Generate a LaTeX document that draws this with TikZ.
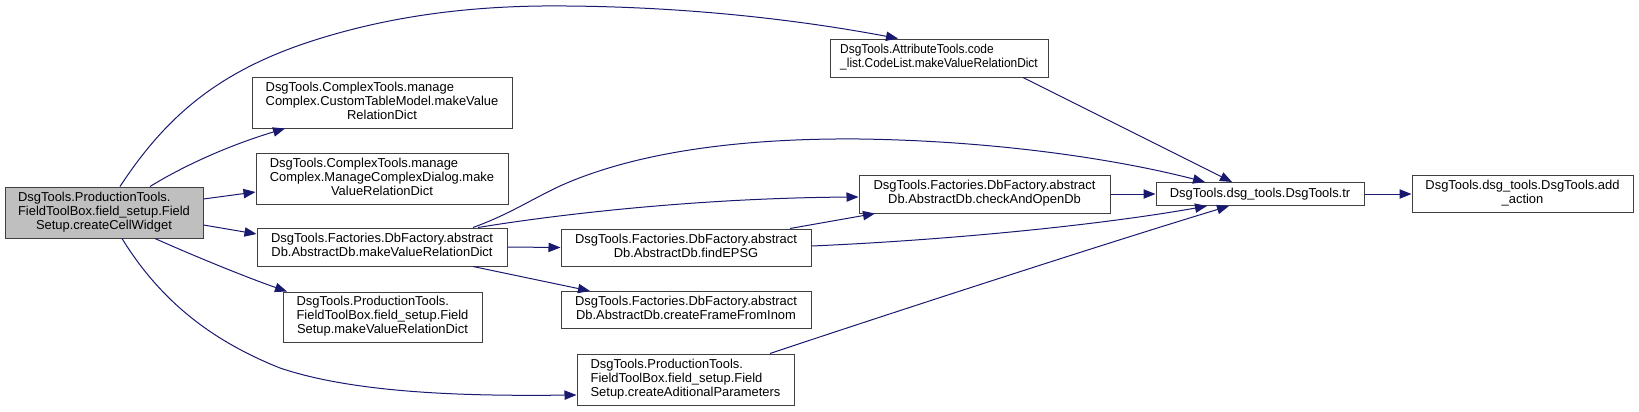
\documentclass[tikz,border=0pt]{standalone}
\usepackage{fontspec}
\usepackage{graphicx}
\setmainfont{Liberation Sans}
\usetikzlibrary{arrows.meta,calc}
\definecolor{edgeblue}{HTML}{191970}
\definecolor{boxline}{HTML}{404040}
\definecolor{mainfill}{HTML}{BFBFBF}
\newcommand\mlab[3][1]{\scalebox{#1}[1]{\begin{tabular}{@{}l@{}}#2\\\multicolumn{1}{@{}c@{}}{#3}\end{tabular}}}
\tikzset{
  fbox/.style={draw=boxline,line width=0.75pt,fill=white,inner sep=0pt,anchor=center,
    font=\fontsize{9.7}{10.5}\selectfont},
  mainbox/.style={fbox,fill=mainfill},
  call/.style={draw=edgeblue,line width=0.75pt,-{Triangle[length=9pt,width=7pt]},fill=none},
}
\begin{document}
\begin{tikzpicture}[x=0.75pt,y=-0.75pt]
\useasboundingbox (0,0) rectangle (1639,411);
% nodes
\node[mainbox,minimum width=148.5pt,minimum height=38.25pt] (A) at (104,212.5)
  {\mlab{DsgTools.ProductionTools.\\FieldToolBox.field\_setup.Field}{Setup.createCellWidget}};
\node[fbox,minimum width=163.5pt,minimum height=28.5pt] (B) at (939,58)
  {\mlab[0.92]{DsgTools.AttributeTools.code}{\_list.CodeList.makeValueRelationDict}};
\node[fbox,minimum width=195pt,minimum height=38.25pt] (C) at (382,102.5)
  {\mlab{DsgTools.ComplexTools.manage\\Complex.CustomTableModel.makeValue}{RelationDict}};
\node[fbox,minimum width=189pt,minimum height=38.25pt] (D) at (382,178.5)
  {\mlab{DsgTools.ComplexTools.manage\\Complex.ManageComplexDialog.make}{ValueRelationDict}};
\node[fbox,minimum width=187.5pt,minimum height=28.5pt] (E) at (382,247)
  {\mlab{DsgTools.Factories.DbFactory.abstract}{Db.AbstractDb.makeValueRelationDict}};
\node[fbox,minimum width=149.25pt,minimum height=37.5pt] (F) at (382.5,317)
  {\mlab{DsgTools.ProductionTools.\\FieldToolBox.field\_setup.Field}{Setup.makeValueRelationDict}};
\node[fbox,minimum width=188.25pt,minimum height=28.5pt] (G) at (984.5,194)
  {\mlab{DsgTools.Factories.DbFactory.abstract}{Db.AbstractDb.checkAndOpenDb}};
\node[fbox,minimum width=187.5pt,minimum height=27.75pt] (H) at (686,247.5)
  {\mlab{DsgTools.Factories.DbFactory.abstract}{Db.AbstractDb.findEPSG}};
\node[fbox,minimum width=187.5pt,minimum height=27.75pt] (I) at (686,310)
  {\mlab{DsgTools.Factories.DbFactory.abstract}{Db.AbstractDb.createFrameFromInom}};
\node[fbox,minimum width=162.75pt,minimum height=38.25pt] (J) at (685.5,379.5)
  {\mlab{DsgTools.ProductionTools.\\FieldToolBox.field\_setup.Field}{Setup.createAditionalParameters}};
\node[fbox,minimum width=156pt,minimum height=17.25pt] (K) at (1260,194)
  {DsgTools.dsg\_tools.DsgTools.tr};
\node[fbox,minimum width=165.75pt,minimum height=27.75pt] (L) at (1522.5,194)
  {\mlab{DsgTools.dsg\_tools.DsgTools.add}{\_action}};
% edges
\draw[call] ($(A.north)+(16,0)$) .. controls (165,118) and (215,75) .. (300,45)
  .. controls (390,14) and (480,5) .. (567,6)
  .. controls (690,7) and (800,20) .. ($(B.north)+(-41,0)$);
\draw[call] ($(A.north)+(46,0)$) .. controls (185,165) and (230,145) .. ($(C.south)+(-97,0)$);
\draw[call] ($(A.east)+(0,-13.5)$) -- ($(D.west)+(0,13.5)$);
\draw[call] ($(A.east)+(0,12.5)$) -- ($(E.west)+(0,-13)$);
\draw[call] ($(A.south)+(51,0)$) .. controls (185,252) and (240,275) .. ($(F.north)+(-95.5,0)$);
\draw[call] ($(A.south)+(18,0)$) .. controls (160,300) and (210,340) .. (280,368)
  .. controls (360,395) and (480,396) .. ($(J.west)+(0,15.5)$);
\draw[call] ($(E.north)+(91,0)$) .. controls (510,214) and (530,200) .. (560,186)
  .. controls (640,150) and (750,138) .. (860,139)
  .. controls (1000,141) and (1120,160) .. ($(K.north)+(-55,0)$);
\draw[call] ($(E.north)+(96,0)$) .. controls (560,214) and (700,198) .. ($(G.west)+(0,3)$);
\draw[call] (E.east) -- (H.west);
\draw[call] ($(E.south)+(91,0)$) -- ($(I.north)+(-96,0)$);
\draw[call] ($(B.south)+(84,0)$) -- ($(K.north)+(-28,0)$);
\draw[call] (G.east) -- (K.west);
\draw[call] ($(H.north)+(104,0)$) -- ($(G.south)+(-109.5,0)$);
\draw[call] ($(H.east)+(0,-1.5)$) .. controls (950,240) and (1100,225) .. ($(K.south)+(-53,0)$);
\draw[call] ($(J.north)+(84.5,0)$) .. controls (870,320) and (1100,245) .. ($(K.south)+(-31,0)$);
\draw[call] (K.east) -- (L.west);
\end{tikzpicture}
\end{document}
